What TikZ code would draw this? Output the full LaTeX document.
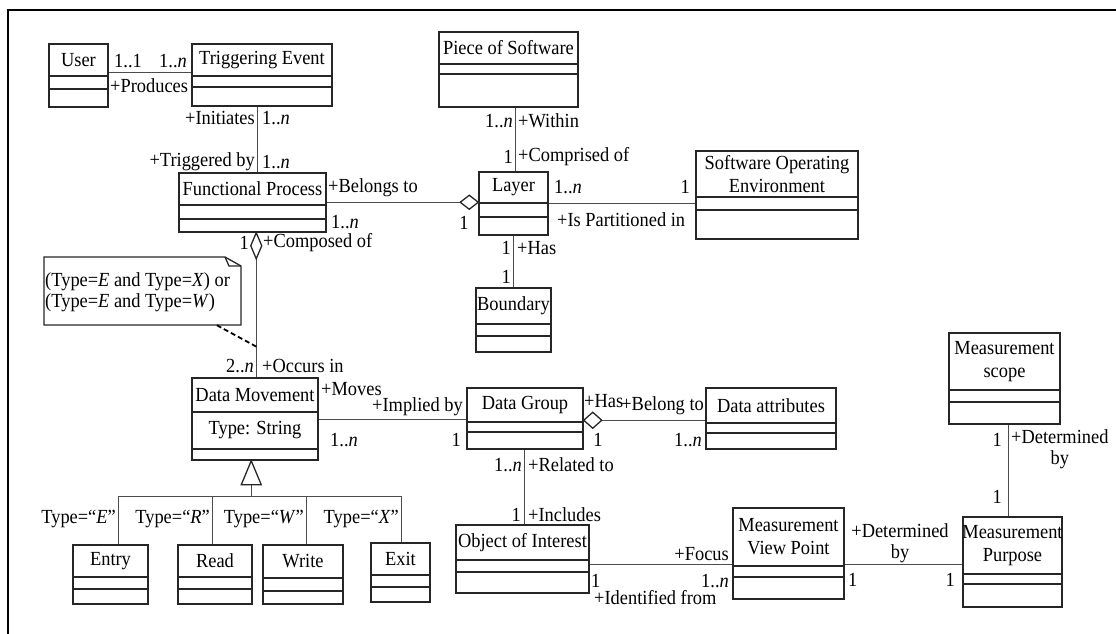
\documentclass[tikz,border=0pt]{standalone}
\usepackage{fontspec}
\setmainfont{Liberation Serif}[FakeStretch=0.92]
\usetikzlibrary{fit,calc}
\newcommand\fnt{\fontsize{20}{23}\selectfont}
\newcommand\mn{1..\textit{n}}
\tikzset{
 cbox/.style={draw=black!85, line width=1.5pt, inner sep=0pt},
 cline/.style={draw=black!85, line width=1.3pt},
 ctext/.style={inner sep=0pt, align=center, font=\fnt},
 lab/.style={inner sep=0pt, font=\fnt},
 assoc/.style={draw=black!70, line width=1.2pt},
 dia/.style={draw=black!85, line width=1.3pt, fill=white, line join=miter},
 notedash/.style={draw=black, line width=1.8pt, dash pattern=on 5pt off 3pt},
}
\newcommand\umlbox[8]{%
  \node[cbox, fit={(#2,#3) (#4,#5)}] (#1) {};
  \draw[cline] (#2,#6) -- (#4,#6) (#2,#7) -- (#4,#7);
  \node[ctext] (#1-t) at ({(#2+#4)/2},{(#3+#6)/2}) {#8};
}
\begin{document}
\begin{tikzpicture}[x=1pt,y=-1pt]
\useasboundingbox (0,0) rectangle (1116,634);
\draw[line width=2pt] (8,634) -- (8,10) -- (1116,10);

% classes
\umlbox{user}{49}{44}{108}{107}{76}{89}{User}
\umlbox{te}{192}{44}{332}{106}{76}{87}{Triggering Event}
\umlbox{pos}{439}{32}{578}{107}{64}{74}{Piece of Software}
\umlbox{fp}{179}{173}{326}{232}{205}{219}{Functional Process}
\umlbox{layer}{479}{172}{548}{235}{203}{217}{Layer}
\umlbox{soe}{696}{151}{858}{239}{197}{210}{Software Operating\\Environment}
\umlbox{bnd}{476}{288}{551}{352}{324}{336}{Boundary}
\umlbox{dm}{192}{378}{318}{460}{412}{449}{Data Movement}
\node[ctext] (dm-a) at (255,430) {Type: String};
\umlbox{dg}{467}{388}{583}{449}{422}{432}{Data Group}
\umlbox{da}{706}{388}{836}{449}{423}{433}{Data attributes}
\umlbox{entry}{73}{545}{148}{604}{577}{589}{Entry}
\umlbox{read}{178}{545}{252}{604}{577}{589}{Read}
\umlbox{write}{263}{545}{343}{604}{578}{591}{Write}
\umlbox{exit}{371}{543}{430}{602}{575}{587}{Exit}
\umlbox{ooi}{456}{525}{589}{593}{560}{572}{Object of Interest}
\umlbox{mvp}{733}{508}{844}{599}{566}{577}{Measurement\\View Point}
\umlbox{mp}{963}{517}{1062}{607}{574}{584}{Measurement\\Purpose}
\umlbox{ms}{949}{333}{1060}{424}{390}{402}{Measurement\\scope}

% note
\node[inner sep=0pt, fit={(44,257) (241,325)}] (note) {};
\draw[cline] (44,257) -- (225,257) -- (241,266) -- (241,325) -- (44,325) -- cycle;
\draw[cline] (225,257) -- (229,266) -- (241,266);
\node[lab, align=left, anchor=west, font=\fontsize{20}{20.5}\selectfont] (note-t) at (45,292)
  {(Type=\textit{E} and Type=\textit{X}) or\\(Type=\textit{E} and Type=\textit{W})};

% User - Triggering Event
\draw[assoc] ([yshift=-29pt]user.north east) -- ([yshift=-29pt]te.north west);
\node[lab] (l1) at (128,61) {1..1};
\node[lab] (l2) at (173,61) {\mn};
\node[lab,anchor=west] (l3) at (110,86) {+Produces};

% Triggering Event - Functional Process
\draw[assoc] ([xshift=66pt]te.south west) -- ([xshift=79pt]fp.north west);
\node[lab,anchor=east] (l4) at (255,118) {+Initiates};
\node[lab,anchor=west] (l5) at (262,118) {\mn};
\node[lab,anchor=east] (l6) at (255,162) {+Triggered by};
\node[lab,anchor=west] (l7) at (262,162) {\mn};

% Piece of Software - Layer
\draw[assoc] ([xshift=77pt]pos.south west) -- ([xshift=37pt]layer.north west);
\node[lab,anchor=east] (l8) at (513,121) {\mn};
\node[lab,anchor=west] (l9) at (518,121) {+Within};
\node[lab,anchor=east] (l10) at (513,157) {1};
\node[lab,anchor=west] (l11) at (518,157) {+Comprised of};

% Functional Process - Layer (aggregation)
\draw[assoc] ([yshift=-30pt]fp.north east) -- ([xshift=-18pt,yshift=-31pt]layer.north west);
\draw[dia] ([yshift=-31pt]layer.north west) -- ++(-9,-7) -- ++(-9,7) -- ++(9,7) -- cycle;
\node[lab,anchor=west] (l12) at (328,188) {+Belongs to};
\node[lab,anchor=west] (l13) at (331,222) {\mn};
\node[lab] (l14) at (464,223) {1};

% Layer - Software Operating Environment
\draw[assoc] ([yshift=-32pt]layer.north east) -- ([yshift=-53pt]soe.north west);
\node[lab,anchor=west] (l15) at (554,187) {\mn};
\node[lab,anchor=east] (l16) at (690,187) {1};
\node[lab,anchor=west] (l17) at (557,220) {+Is Partitioned in};

% Layer - Boundary
\draw[assoc] ([xshift=35pt]layer.south west) -- ([xshift=38pt]bnd.north west);
\node[lab,anchor=east] (l18) at (511,248) {1};
\node[lab,anchor=west] (l19) at (517,248) {+Has};
\node[lab,anchor=east] (l20) at (511,277) {1};

% Functional Process - Data Movement (composition)
\draw[assoc] ([xshift=78pt,yshift=-26pt]fp.south west) -- ([xshift=65pt]dm.north west);
\draw[dia] ([xshift=78pt]fp.south west) -- ++(5.5,13) -- ++(-5.5,13) -- ++(-5.5,-13) -- cycle;
\node[lab,anchor=east] (l21) at (249,243) {1};
\node[lab,anchor=west] (l22) at (263,243) {+Composed of};
\node[lab,anchor=east] (l23) at (254,366) {2..\textit{n}};
\node[lab,anchor=west] (l24) at (262,366) {+Occurs in};
\coordinate (nt) at (257,347);
\draw[notedash] ([xshift=173pt]note.south west) -- (nt);

% Data Movement - Data Group
\draw[assoc] ([yshift=-42pt]dm.north east) -- ([yshift=-32pt]dg.north west);
\node[lab,anchor=west] (l25) at (321,389) {+Moves};
\node[lab,anchor=east] (l26) at (463,407) {+Implied by};
\node[lab,anchor=west] (l27) at (330,440) {\mn};
\node[lab,anchor=east] (l28) at (461,440) {1};

% Data Group - Data attributes (aggregation)
\draw[assoc] ([xshift=18pt,yshift=-33pt]dg.north east) -- ([yshift=-33pt]da.north west);
\draw[dia] ([yshift=-33pt]dg.north east) -- ++(9,-8) -- ++(9,8) -- ++(-9,8) -- cycle;
\node[lab,anchor=west] (l29) at (584,401) {+Has};
\node[lab,anchor=east] (l30) at (704,406) {+Belong to};
\node[lab] (l31) at (598,440) {1};
\node[lab,anchor=east] (l32) at (702,440) {\mn};

% Data Group - Object of Interest
\draw[assoc] ([xshift=58pt]dg.south west) -- ([xshift=69pt]ooi.north west);
\node[lab,anchor=east] (l33) at (522,465) {\mn};
\node[lab,anchor=west] (l34) at (528,465) {+Related to};
\node[lab,anchor=east] (l35) at (521,515) {1};
\node[lab,anchor=west] (l36) at (528,515) {+Includes};

% Object of Interest - Measurement View Point
\draw[assoc] ([yshift=-40pt]ooi.north east) -- ([yshift=-57pt]mvp.north west);
\node[lab,anchor=east] (l37) at (729,554) {+Focus};
\node[lab,anchor=east] (l38) at (729,581) {\mn};
\node[lab,anchor=west] (l39) at (591,581) {1};
\node[lab,anchor=west] (l40) at (594,598) {+Identified from};

% Measurement View Point - Measurement Purpose
\draw[assoc] ([yshift=-57pt]mvp.north east) -- ([yshift=-48pt]mp.north west);
\node[lab,align=center,font=\fontsize{20}{21}\selectfont] (l41) at (900,543) {+Determined\\by};
\node[lab,anchor=west] (l42) at (848,580) {1};
\node[lab,anchor=east] (l43) at (955,580) {1};

% Measurement scope - Measurement Purpose
\draw[assoc] ([xshift=60pt]ms.south west) -- ([xshift=46pt]mp.north west);
\node[lab,anchor=east] (l44) at (1002,440) {1};
\node[lab,anchor=north west,align=center,font=\fontsize{20}{21}\selectfont] (l45) at (1011,429) {+Determined\\by};
\node[lab,anchor=east] (l46) at (1002,497) {1};

% generalization
\draw[assoc] ([xshift=60pt,yshift=-24pt]dm.south west) -- ++(0,12) coordinate (gb);
\draw[dia] ([xshift=60pt]dm.south west) -- ++(10,24) -- ++(-20,0) -- cycle;
\draw[assoc] (gb) -| ([xshift=46pt]entry.north west);
\draw[assoc] (gb) -| ([xshift=35pt]read.north west);
\draw[assoc] (gb) -| ([xshift=44pt]write.north west);
\draw[assoc] (gb) -| ([xshift=31pt]exit.north west);
\node[lab,anchor=east] (l47) at (116,519) {Type=“\textit{E}”};
\node[lab,anchor=east] (l48) at (210,519) {Type=“\textit{R}”};
\node[lab,anchor=east] (l49) at (304,519) {Type=“\textit{W}”};
\node[lab,anchor=east] (l50) at (399,519) {Type=“\textit{X}”};
\end{tikzpicture}
\end{document}
